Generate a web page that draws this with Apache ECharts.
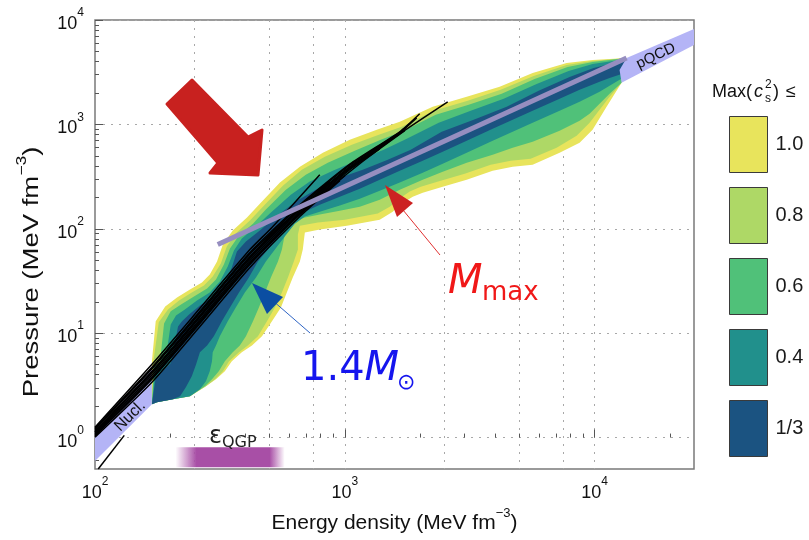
<!DOCTYPE html>
<html><head><meta charset="utf-8">
<script src="https://cdn.jsdelivr.net/npm/echarts@6/dist/echarts.min.js"></script>
<style>html,body{margin:0;padding:0;background:#fff}#c{width:809px;height:540px}</style>
</head><body><div id="c"></div>
<script>
// ===== Data: [energy density (MeV fm^-3), pressure (MeV fm^-3)] =====
const xRange = [100, 25000];
const yRange = [0.5, 10000];
const xMajorTicks = [100, 1000, 10000];
const xMinorTicks = [200,300,400,500,600,700,800,900,2000,3000,4000,5000,6000,7000,8000,9000,20000];
const xGridLines = [250,500,750,1000,2500,5000,7500,10000];
const yMajorTicks = [1, 10, 100, 1000, 10000];
const yMinorTicks = [0.6,0.7,0.8,0.9,2,3,4,5,6,7,8,9,20,30,40,50,60,70,80,90,200,300,400,500,600,700,800,900,2000,3000,4000,5000,6000,7000,8000,9000];

const bandNames = ['1.0', '0.8', '0.6', '0.4', '1/3'];
const bandColors = ['#e8e45c', '#aed866', '#50c179', '#21908c', '#1b5381'];

const yellowUpper = [[169,2.09],[169,5.38],[175,13.0],[191,18.0],[213,22.0],[240,26.2],[268,30.6],[288,36.5],[308,48.6],[325,70.6],[356,96.1],[406,128],[457,174],[550,277],[661,393],[817,535],[1047,713],[1343,888],[1660,1059],[2249,1473],[3076,1836],[4169,2288],[5649,3113],[7727,3880],[9817,4147],[13428,4331]];
const yellowLower = [[12823,2499],[11169,1473],[9817,888],[8710,667],[7244,535],[5649,411],[4699,393],[3908,360],[3076,295],[2466,253],[2051,222],[1871,203],[1660,170],[1556,146],[1380,122],[1019,107],[794,98.3],[692,92.0],[685,75.5],[679,63.2],[661,48.6],[619,34.2],[586,24.5],[555,17.6],[511,13.0],[466,9.32],[425,7.64],[387,6.55],[353,5.38],[331,4.31],[305,3.62],[278,3.10],[240,2.49],[205,2.33],[177,2.18]];

const lightGreenUpper = [[169,2.09],[171,5.14],[180,12.7],[196,16.9],[217,20.6],[244,24.5],[273,28.6],[296,34.9],[319,46.5],[337,67.6],[366,90.0],[417,120],[470,163],[565,259],[673,368],[832,490],[1067,638],[1368,796],[1690,949],[2270,1349],[3105,1681],[4207,2142],[5702,2914],[7727,3713],[9817,4055],[13428,4331]];
const lightGreenLower = [[12823,2499],[11482,1836],[10471,1379],[9550,1036],[8472,778],[7047,597],[5546,469],[4613,449],[3837,411],[3020,337],[2421,289],[2014,253],[1820,227],[1629,190],[1514,163],[1355,140],[1000,122],[780,115],[661,107],[649,88.0],[649,63.2],[625,48.6],[592,34.2],[560,24.5],[525,17.6],[488,13.0],[449,9.32],[409,7.64],[377,6.55],[344,5.38],[325,4.31],[302,3.62],[278,3.10],[240,2.49],[205,2.33],[177,2.18]];

const greenUpper = [[169,2.09],[172,4.71],[182,5.26],[189,12.4],[201,16.2],[221,18.8],[249,22.5],[281,26.8],[305,32.7],[328,45.5],[347,64.7],[377,86.1],[429,112],[483,153],[581,237],[698,330],[855,430],[1096,559],[1393,713],[1722,869],[2312,1236],[3133,1539],[4246,1961],[5754,2728],[7798,3554],[9817,3967],[13428,4331]];
const greenLower = [[12823,2499],[11482,1961],[10471,1573],[9550,1263],[8710,1083],[7244,869],[5649,682],[4699,597],[3908,512],[3076,430],[2466,352],[2051,295],[1660,237],[1380,190],[1148,163],[955,149],[794,137],[692,128],[614,117],[575,88.0],[560,63.2],[540,48.6],[506,34.2],[479,24.5],[453,17.6],[429,13.0],[402,9.32],[380,7.64],[356,6.55],[331,5.38],[313,4.31],[294,3.62],[275,3.10],[240,2.49],[205,2.33],[177,2.18]];

const tealUpper = [[169,2.09],[174,4.31],[191,5.26],[201,12.1],[211,14.8],[229,16.9],[256,20.6],[288,24.5],[316,31.3],[340,43.5],[360,61.9],[387,80.6],[441,105],[501,140],[608,212],[724,283],[895,360],[1138,459],[1432,572],[1770,728],[2377,1036],[3192,1349],[4325,1757],[5861,2444],[7870,3253],[9817,3796],[13428,4240]];
const tealLower = [[12942,2789],[11482,2339],[10471,2050],[8710,1645],[7244,1349],[5649,1036],[4699,850],[3908,697],[3076,535],[2466,420],[2051,345],[1660,277],[1380,232],[1148,194],[955,167],[794,146],[692,131],[631,112],[575,84.2],[525,63.2],[483,48.6],[441,34.2],[398,24.5],[366,17.6],[340,13.0],[316,9.32],[305,7.64],[296,6.55],[294,5.38],[288,4.31],[278,3.46],[263,2.90],[240,2.49],[205,2.33],[177,2.18]];

const darkBlueUpper = [[169,2.09],[175,3.78],[201,5.14],[215,11.6],[223,13.0],[238,15.1],[263,18.4],[296,22.5],[328,29.3],[353,42.6],[370,60.5],[402,75.5],[457,96.1],[525,128],[643,186],[766,237],[929,302],[1180,368],[1486,459],[1837,572],[2443,850],[3281,1107],[4446,1473],[5970,2096],[7943,2851],[9908,3477],[13428,4147]];
const darkBlueLower = [[13183,3113],[11482,2789],[10471,2555],[8710,2142],[7244,1757],[5649,1349],[4699,1107],[3908,908],[3076,697],[2466,547],[2051,449],[1660,360],[1380,295],[1148,242],[955,203],[794,170],[692,146],[614,117],[550,86.1],[492,63.2],[449,48.6],[413,34.2],[377,24.5],[347,17.6],[322,13.0],[299,9.32],[281,7.64],[263,6.55],[254,5.03],[244,3.86],[231,3.03],[219,2.49],[205,2.33],[177,2.18]];

const nuclBand = [[100,1.13],[169,4.51],[169,2.09],[100,0.595]];
const pqcdBand = [[13428,4331],[25000,8204],[25000,5768],[12823,2499],[12589,3327]];
const conformalLine = [[310,70.6],[13428,4331]];
const qgpRange = [210, 255, 500, 575];   // fade-in, solid start, solid end, fade-out
const qgpPressure = [0.521, 0.809];

const eosLines = [
  [[100,1.257],[169,5.03],[263,17.3],[417,63.2],[511,103],[794,330]],
  [[100,1.230],[169,4.71],[263,16.2],[417,59.2],[661,170],[1047,416],[1660,850],[1995,1263]],
  [[100,1.190],[169,4.56],[263,15.6],[417,57.3],[661,165],[1047,406],[1660,841],[1941,1156]],
  [[100,1.151],[169,4.31],[263,14.8],[417,54.2],[661,157],[1047,393],[1660,824],[1820,1013]],
  [[100,1.13],[169,4.13],[263,14.2],[417,51.9],[661,153],[1047,385],[1660,813]],
  [[100,1.102],[169,3.95],[263,13.5],[417,49.7],[661,148],[1047,376],[1514,697]],
  [[100,1.08],[169,3.78],[263,13.0],[417,47.5],[661,143],[1047,368],[1380,584]],
  [[100,1.043],[169,3.62],[263,12.4],[417,45.5],[661,137],[1000,323]],
  [[100,1.009],[169,3.39],[263,11.6],[417,42.6],[661,131],[955,289]],
  [[100,1.139],[169,4.22],[263,14.5],[417,53.0],[661,155],[1047,389],[1660,818],[2582,1645]],
  [[100,1.203],[169,4.61],[263,15.8],[417,57.9],[603,128],[871,283]],
  [[100,1.05],[169,3.70],[263,12.7],[417,46.5],[661,140],[1148,420],[1738,869]],
  [[103,0.5],[131,1.05]]
];

// ===== Chart =====
const L = Math.log10;
const xMin = L(xRange[0]), xMax = L(xRange[1]), yMin = L(yRange[0]), yMax = L(yRange[1]);
const FONT = '"Liberation Sans", Arial, Helvetica, sans-serif';
const MFONT = '"DejaVu Sans", sans-serif';
const tick = v => '{b|10}{s|' + Math.round(v) + '}';
const labelRich = {
  b: {fontSize: 18, fontFamily: FONT, color: '#111', lineHeight: 26, verticalAlign: 'bottom'},
  s: {fontSize: 12, fontFamily: FONT, color: '#111', lineHeight: 12, verticalAlign: 'top'}
};
const nameRich = (fs) => ({
  n: {fontSize: fs, fontFamily: FONT, color: '#111', fill: '#111', lineHeight: fs + 6, verticalAlign: 'bottom'},
  s: {fontSize: Math.round(fs * 0.62), fontFamily: FONT, color: '#111', fill: '#111', lineHeight: 12, verticalAlign: 'top'}
});
const tickStyle = {color: '#555', width: 1};

function polySeries(name, pts, color) {
  return {
    type: 'custom', name: name, xAxisIndex: 0, yAxisIndex: 0, silent: true, clip: true, z: 2,
    itemStyle: {color: color},
    data: [[L(pts[0][0]), L(pts[0][1])]],
    renderItem: function (params, api) {
      return {type: 'polygon', shape: {points: pts.map(p => api.coord([L(p[0]), L(p[1])]))}, style: {fill: color}};
    }
  };
}

const series = [];
series.push(polySeries('nucl', nuclBand, '#b4b4f6'));
const bands = [[yellowUpper, yellowLower], [lightGreenUpper, lightGreenLower], [greenUpper, greenLower], [tealUpper, tealLower], [darkBlueUpper, darkBlueLower]];
bands.forEach((b, i) => series.push(polySeries(bandNames[i], b[0].concat(b[1]), bandColors[i])));
series.push(polySeries('pqcd', pqcdBand, '#b4b4f6'));
series.push({
  type: 'custom', name: 'qgp', silent: true, clip: true, z: 2,
  data: [[L(qgpRange[0]), L(qgpPressure[0])]],
  renderItem: function (params, api) {
    const a = api.coord([L(qgpRange[0]), L(qgpPressure[1])]);
    const b1 = api.coord([L(qgpRange[1]), L(qgpPressure[1])]);
    const b2 = api.coord([L(qgpRange[2]), L(qgpPressure[1])]);
    const c = api.coord([L(qgpRange[3]), L(qgpPressure[0])]);
    const w = c[0] - a[0];
    const col = 'rgba(168,79,166,';
    return {type: 'rect', shape: {x: a[0], y: a[1], width: w, height: c[1] - a[1]},
      style: {fill: new echarts.graphic.LinearGradient(0, 0, 1, 0, [
        {offset: 0, color: col + '0)'}, {offset: (b1[0] - a[0]) / w, color: col + '1)'},
        {offset: (b2[0] - a[0]) / w, color: col + '1)'}, {offset: 1, color: col + '0)'}])}};
  }
});
eosLines.forEach((ln, i) => series.push({
  type: 'line', name: 'eos' + i, data: ln.map(p => [L(p[0]), L(p[1])]), showSymbol: false, smooth: 0.2,
  silent: true, z: 3, lineStyle: {color: '#000', width: 1.5}
}));
series.push({
  type: 'line', name: 'conf', data: conformalLine.map(p => [L(p[0]), L(p[1])]), showSymbol: false,
  silent: true, z: 4, lineStyle: {color: '#968ec0', width: 5}
});

const chart = echarts.init(document.getElementById('c'), null, {renderer: 'canvas'});
const txt = (x, y, text, opt) => ({type: 'text', x: x, y: y, z: 100, silent: true,
  style: Object.assign({text: text, fill: '#111', align: 'left', verticalAlign: 'middle'}, opt)});
chart.setOption({
  animation: false,
  grid: {left: 95, top: 20, right: 115, bottom: 71, show: true, borderColor: '#7a7a7a', borderWidth: 1.5, backgroundColor: 'transparent'},
  legend: {
    data: bandNames, orient: 'vertical', left: 729, top: 116, padding: 0,
    itemWidth: 38, itemHeight: 56, itemGap: 14, icon: 'rect', selectedMode: false,
    itemStyle: {borderColor: '#3a3a3a', borderWidth: 1},
    textStyle: {fontSize: 20, fontFamily: FONT, color: '#1a1a1a', padding: [0, 0, 0, 3]}
  },
  xAxis: [
    {type: 'value', min: xMin, max: xMax, position: 'bottom',
      axisLine: {show: false},
      axisTick: {show: true, inside: true, length: 8, customValues: xMajorTicks.map(L), lineStyle: tickStyle},
      axisLabel: {show: true, customValues: xMajorTicks.map(L), formatter: tick, rich: labelRich, margin: 7},
      splitLine: {show: false},
      name: '{n|Energy density (MeV fm}{s|\u22123}{n|)}', nameLocation: 'middle', nameGap: 34,
      nameTextStyle: {rich: nameRich(21)}},
    {type: 'value', min: xMin, max: xMax, position: 'bottom', axisLine: {show: false},
      axisTick: {show: true, inside: true, length: 4, customValues: xMinorTicks.map(L), lineStyle: tickStyle},
      axisLabel: {show: false}, splitLine: {show: false}},
    {type: 'value', min: xMin, max: xMax, position: 'top', axisLine: {show: false},
      axisTick: {show: false, customValues: xGridLines.map(L)}, axisLabel: {show: false},
      splitLine: {show: true, lineStyle: {color: '#a8a8a8', type: [2, 6], width: 1}}}
  ],
  yAxis: [
    {type: 'value', min: yMin, max: yMax, position: 'left',
      axisLine: {show: false},
      axisTick: {show: true, inside: true, length: 8, customValues: yMajorTicks.map(L), lineStyle: tickStyle},
      axisLabel: {show: true, customValues: yMajorTicks.map(L), formatter: tick, rich: labelRich, margin: 11},
      splitLine: {show: true, lineStyle: {color: '#a8a8a8', type: [2, 6], width: 1}}},
    {type: 'value', min: yMin, max: yMax, position: 'left', axisLine: {show: false},
      axisTick: {show: true, inside: true, length: 4, customValues: yMinorTicks.map(L), lineStyle: tickStyle},
      axisLabel: {show: false}, splitLine: {show: false}}
  ],
  series: series,
  graphic: [
    // y-axis title (stretched along its length as in the original figure)
    {type: 'text', z: 100, silent: true, x: 29, y: 272, rotation: Math.PI / 2, scaleX: 1.25, scaleY: 1,
      style: {text: '{n|Pressure (MeV fm}{s|\u22123}{n|)}', rich: nameRich(22), align: 'center', verticalAlign: 'middle'}},
    // big red arrow
    {type: 'polygon', z: 100, silent: true, shape: {points: [[167,104],[192,80],[248,137],[262,130],[258,175],[210,173],[218,163]]},
      style: {fill: '#c8211f', stroke: '#c8211f', lineWidth: 3, lineJoin: 'round'}},
    // 1.4 Msun arrow
    {type: 'line', z: 100, silent: true, shape: {x1: 310, y1: 333, x2: 272, y2: 300}, style: {stroke: '#2e64c4', lineWidth: 1}},
    {type: 'polygon', z: 100, silent: true, shape: {points: [[252,283],[283,297],[267,314]]}, style: {fill: '#0b4ea2'}},
    // Mmax arrow
    {type: 'line', z: 100, silent: true, shape: {x1: 440, y1: 255, x2: 403, y2: 210}, style: {stroke: '#e03030', lineWidth: 1}},
    {type: 'polygon', z: 100, silent: true, shape: {points: [[385,185],[413,203],[397,217]]}, style: {fill: '#cc2222'}},
    // texts
    txt(301, 370, '{a|1.4}{b|M}', {rich: {a: {fontSize: 40, fontFamily: MFONT, fill: '#1515ee'}, b: {fontSize: 40, fontFamily: MFONT, fontStyle: 'italic', fill: '#1515ee'}}}),
    txt(397, 383, '\u2299', {fontSize: 22, fontFamily: MFONT, fill: '#1515ee'}),
    txt(448, 283, 'M', {fontSize: 40, fontFamily: MFONT, fontStyle: 'italic', fill: '#f01818'}),
    txt(482, 293, 'max', {fontSize: 26, fontFamily: MFONT, fill: '#f01818'}),
    txt(209, 437, '\u03b5', {fontSize: 24, fontFamily: MFONT, fill: '#222'}),
    txt(222, 443, 'QGP', {fontSize: 16, fontFamily: MFONT, fill: '#222'}),
    {type: 'text', z: 100, silent: true, x: 130, y: 416, rotation: 0.78,
      style: {text: 'Nucl.', fontSize: 16, fontFamily: FONT, fill: '#111', align: 'center', verticalAlign: 'middle'}},
    {type: 'text', z: 100, silent: true, x: 656, y: 56, rotation: 0.45,
      style: {text: 'pQCD', fontSize: 15, fontFamily: FONT, fill: '#111', align: 'center', verticalAlign: 'middle'}},
    // legend title Max(c_s^2) <=
    txt(712, 92, 'Max(', {fontSize: 18, fontFamily: FONT}),
    txt(754, 92, 'c', {fontSize: 18, fontFamily: FONT, fontStyle: 'italic'}),
    txt(765, 99, 's', {fontSize: 12, fontFamily: FONT}),
    txt(765, 85, '2', {fontSize: 12, fontFamily: FONT}),
    txt(773, 92, ')', {fontSize: 18, fontFamily: FONT}),
    txt(786, 92, '\u2264', {fontSize: 18, fontFamily: FONT})
  ]
});
</script>
</body></html>
